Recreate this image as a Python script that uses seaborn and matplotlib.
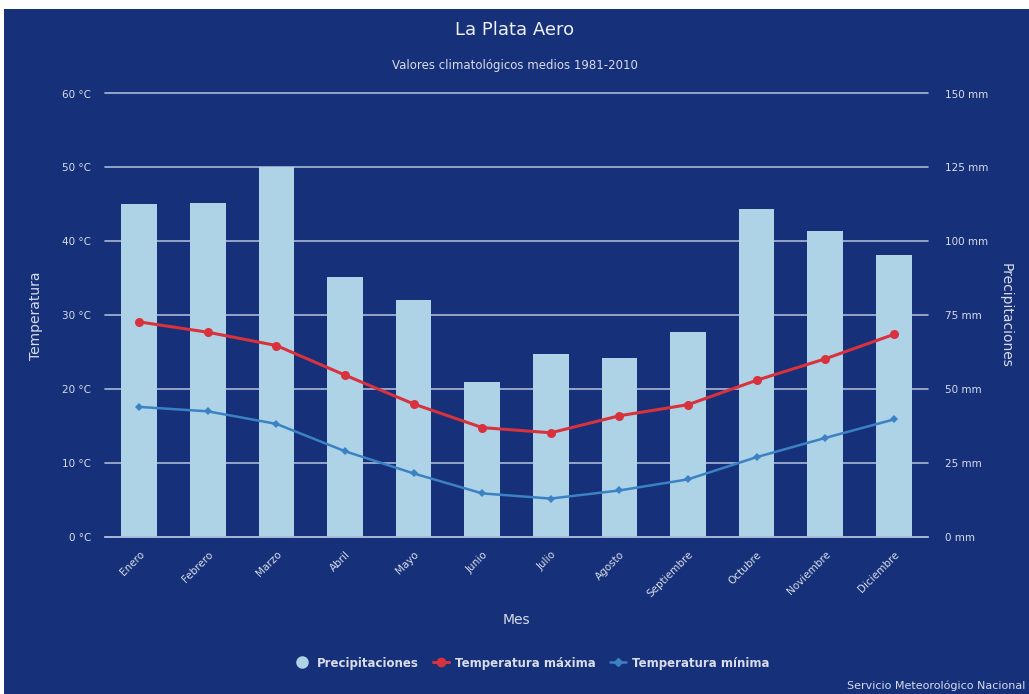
import numpy as np
import pandas as pd
import matplotlib
matplotlib.use('Agg')
import matplotlib.pyplot as plt
import seaborn as sns
from matplotlib.lines import Line2D
from matplotlib.patches import Rectangle

# Monthly climate values, La Plata Aero 1981-2010
meses = ['Enero', 'Febrero', 'Marzo', 'Abril', 'Mayo', 'Junio', 'Julio',
         'Agosto', 'Septiembre', 'Octubre', 'Noviembre', 'Diciembre']
precip = [112.6, 113.1, 125.0, 88.1, 80.0, 52.4, 62.0, 60.6, 69.4, 111.0, 103.6, 95.4]
t_max = [29.1, 27.7, 25.9, 21.9, 18.0, 14.8, 14.1, 16.4, 17.9, 21.2, 24.1, 27.4]
t_min = [17.6, 17.0, 15.3, 11.6, 8.6, 5.9, 5.2, 6.3, 7.8, 10.8, 13.4, 15.9]
temp_ticks = [0, 10, 20, 30, 40, 50, 60]
mm_ticks = [0, 25, 50, 75, 100, 125, 150]

bg = '#16307a'
txt = '#d8dde9'
grid_c = '#a9b8d6'
bar_c = '#aed2e6'
red = '#d8323c'
blue = '#3b82c4'

df = pd.DataFrame({'mes': meses, 'precip': precip, 'tmax': t_max, 'tmin': t_min})
df['pos'] = np.arange(len(meses))

sns.set_style('white')
plt.rcParams['font.family'] = ['DejaVu Sans']

fig = plt.figure(figsize=(10.29, 6.94), dpi=100)
fig.patch.set_facecolor('white')
fig.patches.append(Rectangle((4 / 1029, 0), 1, 1 - 9 / 694, transform=fig.transFigure,
                             facecolor=bg, edgecolor='none', zorder=-10))

# precip axes at the bottom (ticks on the right), temperature on top
ax = fig.add_axes([105 / 1029, 1 - 537 / 694, 823 / 1029, (537 - 93.5) / 694])
ax.patch.set_visible(False)
sns.barplot(data=df, x='mes', y='precip', color=bar_c, width=0.52,
            saturation=1, linewidth=0, edgecolor='none', ax=ax, zorder=2)
ax.set_ylim(0, 150)
ax.set_xlim(-0.5, 11.5)
ax.set_yticks(mm_ticks)
ax.set_yticklabels([f'{v} mm' for v in mm_ticks])
ax.grid(axis='y', color=grid_c, linewidth=1.2, zorder=0)
ax.set_axisbelow(True)
for s in ['top', 'left', 'right']:
    ax.spines[s].set_visible(False)
ax.spines['bottom'].set_color(grid_c)
ax.spines['bottom'].set_linewidth(1.2)
ax.spines['bottom'].set_zorder(5)

ax.set_xticks(df['pos'])
ax.set_xticklabels(meses, rotation=45, ha='right', rotation_mode='anchor')
ax.set_xticks(np.arange(-0.5, 12, 1), minor=True)
ax.tick_params(axis='x', which='major', length=0, pad=9, labelsize=7.5, labelcolor=txt)
ax.tick_params(axis='x', which='minor', length=7, width=1.2, color=grid_c, direction='out')
ax.set_xlabel('Mes', color=txt, fontsize=10, labelpad=10)

ax2 = ax.twinx()
sns.lineplot(data=df, x='pos', y='tmax', color=red, linewidth=2.2, marker='o',
             markersize=6.5, markeredgewidth=0, ax=ax2)
sns.lineplot(data=df, x='pos', y='tmin', color=blue, linewidth=1.8, marker='D',
             markersize=4, markeredgewidth=0, ax=ax2)
ax2.set_ylim(0, 60)
ax2.set_xlim(-0.5, 11.5)
ax2.set_yticks(temp_ticks)
ax2.set_yticklabels([f'{v} °C' for v in temp_ticks])
ax2.yaxis.tick_left()
ax2.yaxis.set_label_position('left')
ax2.set_ylabel('Temperatura', color=txt, fontsize=10, labelpad=14)
ax2.set_xlabel('')
ax2.tick_params(axis='y', length=0, pad=10, labelsize=7.5, labelcolor=txt)
for s in ax2.spines.values():
    s.set_visible(False)

# twinx moves the host ticks to the left, so put them back on the right
ax.yaxis.tick_right()
ax.yaxis.set_label_position('right')
ax.set_ylabel('Precipitaciones', color=txt, fontsize=10, rotation=270, labelpad=18)
ax.tick_params(axis='y', length=0, pad=12, labelsize=7.5, labelcolor=txt)
for gl in ax.get_ygridlines():
    gl.set_clip_on(False)

fig.text(0.5, 1 - 30 / 694, 'La Plata Aero', ha='center', va='center', color='#eef0f6',
         fontsize=13)
fig.text(0.5, 1 - 66 / 694, 'Valores climatológicos medios 1981-2010', ha='center',
         va='center', color=txt, fontsize=8.5)

handles = [
    Line2D([], [], linestyle='none', marker='o', markersize=8, color=bar_c),
    Line2D([], [], color=red, linewidth=2.2, marker='o', markersize=6),
    Line2D([], [], color=blue, linewidth=1.8, marker='D', markersize=4),
]
fig.legend(handles, ['Precipitaciones', 'Temperatura máxima', 'Temperatura mínima'],
           loc='center', bbox_to_anchor=(0.517, 1 - 663 / 694), ncol=3, frameon=False,
           labelcolor=txt, prop={'weight': 'bold', 'size': 8.5}, handlelength=1.4,
           handletextpad=0.5, columnspacing=1.2)

fig.text(1025 / 1029, 1 - 686 / 694, 'Servicio Meteorológico Nacional', ha='right',
         va='center', color=txt, fontsize=8)

fig.savefig('out.png', dpi=100, facecolor=fig.get_facecolor())
